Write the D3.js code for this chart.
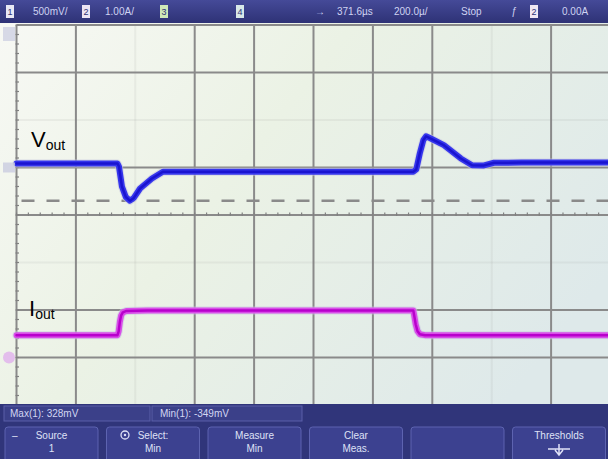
<!DOCTYPE html>
<html>
<head>
<meta charset="utf-8">
<script src="https://cdn.jsdelivr.net/npm/d3@7"></script>
<style>
  body { margin: 0; background: #fff; }
  svg { display: block; font-family: "Liberation Sans", Arial, sans-serif; }
</style>
</head>
<body>
<svg id="scope" width="608" height="459"></svg>
<script>
// captured traces, time in microseconds (200 us/div)
var voutTime = [-1000, -660, -655, -645, -632, -618, -605, -584, -544, -507, -470, 0, 336, 346, 358, 370, 379, 395, 439, 496, 534, 574, 608, 700, 1000]
var voutMv   = [42, 42, 10, -200, -310, -349, -320, -221, -116, -45, -45, -45, -45, -20, 150, 290, 328, 305, 235, 95, 24, 22, 50, 52, 53]

var ioutTime = [-1000, -660, -656, -652, -648, -642, -630, -560, 336, 340, 344, 350, 358, 375, 1000]
var ioutAmp  = [0.47, 0.47, 0.55, 0.75, 0.88, 0.95, 0.98, 0.99, 0.99, 0.85, 0.7, 0.56, 0.49, 0.47, 0.47]

var minCursorMv = -349

var headerLabels = ["500mV/", "1.00A/", "371.6µs", "200.0µ/", "Stop", "0.00A"]
var measLabels = ["Max(1): 328mV", "Min(1): -349mV"]
var softkeys = [["Source", "1"], ["Select:", "Min"], ["Measure", "Min"], ["Clear", "Meas."], ["", ""], ["Thresholds", ""]]

// channel settings
var ch1 = {scale: 500, offsetDiv: 1}
var ch2 = {scale: 1, offsetDiv: -3}

var width = 608, height = 459
var plot = {left: 16.5, right: 610.5, top: 25, bottom: 405}

var svg = d3.select("#scope")

var defs = svg.append("defs")
var bg = defs.append("linearGradient").attr("id", "bg")
    .attr("x1", 0).attr("y1", 0).attr("x2", 1).attr("y2", 0.6)
bg.append("stop").attr("offset", 0).attr("stop-color", "#f8f9f5")
bg.append("stop").attr("offset", 0.45).attr("stop-color", "#ebf2e5")
bg.append("stop").attr("offset", 1).attr("stop-color", "#dee9ea")
var bar = defs.append("linearGradient").attr("id", "bar")
    .attr("x1", 0).attr("y1", 0).attr("x2", 0).attr("y2", 1)
bar.append("stop").attr("offset", 0).attr("stop-color", "#454a98")
bar.append("stop").attr("offset", 1).attr("stop-color", "#2e3276")

svg.append("rect").attr("width", width).attr("height", height).attr("fill", "url(#bg)")

var x = d3.scaleLinear().domain([-1000, 1000]).range([plot.left, plot.right])
var y = d3.scaleLinear().domain([-4, 4]).range([plot.bottom, plot.top])

// graticule
var grid = svg.append("g").attr("stroke", "#8a8a8a").attr("stroke-width", 2)
var faintX = [-600, 600], faintY = [2, -1]
grid.selectAll(".vx").data(d3.range(-1000, 1001, 200)).join("line")
    .attr("x1", d => x(d)).attr("x2", d => x(d))
    .attr("y1", plot.top).attr("y2", plot.bottom)
    .attr("stroke-opacity", d => faintX.includes(d) ? 0.1 : 1)
grid.selectAll(".hy").data(d3.range(-4, 5, 1)).join("line")
    .attr("x1", plot.left).attr("x2", plot.right)
    .attr("y1", d => y(d)).attr("y2", d => y(d))
    .attr("stroke-opacity", d => faintY.includes(d) ? 0.1 : 1)

// minor ticks on centre line and left edge
svg.append("g").attr("stroke", "#808080").attr("stroke-width", 1.2)
    .selectAll("line").data(d3.range(-1000, 1001, 40)).join("line")
    .attr("x1", d => x(d)).attr("x2", d => x(d))
    .attr("y1", y(0) - 2.5).attr("y2", y(0) + 1)
svg.append("g").attr("stroke", "#808080").attr("stroke-width", 1.2)
    .selectAll("line").data(d3.range(-4, 4.01, 0.2)).join("line")
    .attr("x1", plot.left - 1).attr("x2", plot.left + 2.5)
    .attr("y1", d => y(d)).attr("y2", d => y(d))

// min cursor
svg.append("line")
    .attr("x1", plot.left).attr("x2", width)
    .attr("y1", y(ch1.offsetDiv + minCursorMv / ch1.scale))
    .attr("y2", y(ch1.offsetDiv + minCursorMv / ch1.scale))
    .attr("stroke", "#8a8a8a").attr("stroke-width", 2.5)
    .attr("stroke-dasharray", "13,12").attr("stroke-dashoffset", -5)

var vLine = d3.line()
    .x((d, i) => x(voutTime[i]))
    .y(d => y(ch1.offsetDiv + d / ch1.scale))
var iLine = d3.line()
    .x((d, i) => x(ioutTime[i]))
    .y(d => y(ch2.offsetDiv + d / ch2.scale))

function trace(line, values, outer, inner) {
  var g = svg.append("g").attr("fill", "none").attr("stroke-linejoin", "round").attr("stroke-linecap", "round")
  g.append("path").attr("d", line(values)).attr("stroke", "#c8c8e0").attr("stroke-width", 8).attr("opacity", 0.6)
  g.append("path").attr("d", line(values)).attr("stroke", outer).attr("stroke-width", 6)
  g.append("path").attr("d", line(values)).attr("stroke", inner).attr("stroke-width", 2.5)
}
trace(vLine, voutMv, "#3535ec", "#1a14d0")
trace(iLine, ioutAmp, "#d84ee8", "#b800cc")

// ground markers
svg.append("rect").attr("x", 3).attr("y", y(ch1.offsetDiv) - 5).attr("width", 12).attr("height", 10)
    .attr("fill", "#c9cce0").attr("opacity", 0.8)
svg.append("circle").attr("cx", 9).attr("cy", y(ch2.offsetDiv)).attr("r", 6)
    .attr("fill", "#e0b0ec").attr("opacity", 0.8)
svg.append("rect").attr("x", 3).attr("y", 27).attr("width", 12).attr("height", 14)
    .attr("fill", "#c9cce0").attr("opacity", 0.7)

// trace labels
var vl = svg.append("text").attr("x", 31).attr("y", 147).attr("fill", "#000")
vl.append("tspan").attr("font-size", 22).text("V")
vl.append("tspan").attr("font-size", 14).attr("dy", 3).text("out")
var il = svg.append("text").attr("x", 29).attr("y", 316).attr("fill", "#000")
il.append("tspan").attr("font-size", 22).text("I")
il.append("tspan").attr("font-size", 14).attr("dy", 3).text("out")

// header bar
svg.append("rect").attr("width", width).attr("height", 23).attr("fill", "url(#bar)")
var hdr = svg.append("g").attr("font-size", 10).attr("fill", "#cfd3f2")
var boxes = [[6, "1", "#e8e8f4"], [82, "2", "#ece4f4"], [160, "3", "#cfe8b8"], [236, "4", "#d8e8e8"], [530, "2", "#f0e8f4"]]
hdr.selectAll("rect").data(boxes).join("rect")
    .attr("x", d => d[0]).attr("y", 5).attr("width", 8).attr("height", 13).attr("fill", d => d[2])
hdr.selectAll(".bn").data(boxes).join("text")
    .attr("x", d => d[0] + 4).attr("y", 15).attr("text-anchor", "middle")
    .attr("fill", "#2e3276").attr("font-size", 9).text(d => d[1])
var hx = [33, 105, 337, 394, 461, 562]
hdr.selectAll(".hl").data(headerLabels).join("text")
    .attr("x", (d, i) => hx[i]).attr("y", 15).text(d => d)
hdr.append("text").attr("x", 315).attr("y", 15).text("→")
hdr.append("text").attr("x", 511).attr("y", 15).attr("font-style", "italic").text("ƒ")

// measurement bar
svg.append("rect").attr("y", 404).attr("width", width).attr("height", height - 404).attr("fill", "#30357a")
svg.append("rect").attr("x", 4).attr("y", 406).attr("width", 146).attr("height", 15)
    .attr("fill", "#3b4089").attr("stroke", "#5a5fa8")
svg.append("rect").attr("x", 152).attr("y", 406).attr("width", 150).attr("height", 15)
    .attr("fill", "#3b4089").attr("stroke", "#5a5fa8")
svg.selectAll(".ml").data(measLabels).join("text")
    .attr("x", (d, i) => i ? 160 : 10).attr("y", 417)
    .attr("font-size", 10).attr("fill", "#d2d6f2").text(d => d)

// softkeys
var keyW = 93
var keys = svg.append("g").selectAll("g").data(softkeys).join("g")
    .attr("transform", (d, i) => `translate(${5 + i * 101.5},427)`)
keys.append("rect").attr("width", keyW).attr("height", 36).attr("rx", 3)
    .attr("fill", "#3c4190").attr("stroke", "#5d63b0")
keys.append("text").attr("x", keyW / 2).attr("y", 12).attr("text-anchor", "middle")
    .attr("font-size", 10).attr("fill", "#dfe1f6").text(d => d[0])
keys.append("text").attr("x", keyW / 2).attr("y", 25).attr("text-anchor", "middle")
    .attr("font-size", 10).attr("fill", "#dfe1f6").text(d => d[1])
svg.append("text").attr("x", 12).attr("y", 439).attr("font-size", 10).attr("fill", "#dfe1f6").text("–")
svg.append("circle").attr("cx", 125).attr("cy", 435).attr("r", 4)
    .attr("fill", "none").attr("stroke", "#dfe1f6").attr("stroke-width", 1.3)
svg.append("circle").attr("cx", 125).attr("cy", 435).attr("r", 1.2).attr("fill", "#dfe1f6")
svg.append("path").attr("d", "M548,449 L570,449 M559,444 L559,454 M555,450 L559,455 L563,450")
    .attr("stroke", "#dfe1f6").attr("stroke-width", 1.5).attr("fill", "none")
</script>
</body>
</html>
